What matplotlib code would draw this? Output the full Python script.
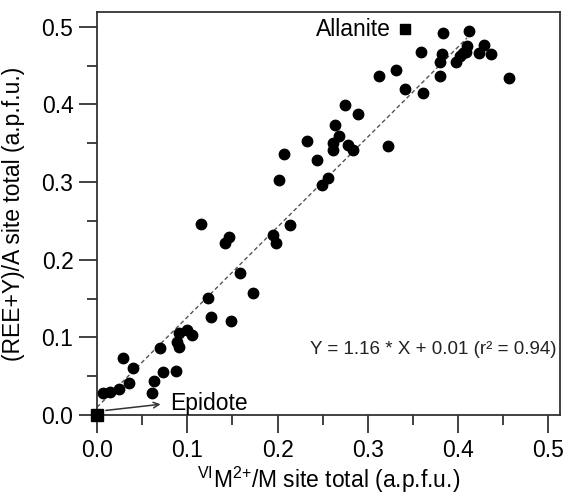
import matplotlib
matplotlib.use("Agg")
import matplotlib.pyplot as plt
from matplotlib.ticker import MultipleLocator

plt.rcParams['font.family'] = ['Liberation Sans', 'DejaVu Sans']
plt.rcParams['mathtext.fontset'] = 'custom'
plt.rcParams['mathtext.rm'] = 'Liberation Sans'
plt.rcParams['mathtext.it'] = 'Liberation Sans'
plt.rcParams['mathtext.default'] = 'regular'

# VI M2+ / M site total
m_site = [0.007, 0.014, 0.024, 0.029, 0.036, 0.040, 0.061, 0.063, 0.073, 0.070,
          0.088, 0.091, 0.089, 0.091, 0.100, 0.105, 0.126, 0.149, 0.123, 0.158,
          0.173, 0.115, 0.142, 0.146, 0.195, 0.198, 0.214, 0.202, 0.207, 0.249,
          0.256, 0.244, 0.233, 0.261, 0.262, 0.268, 0.264, 0.278, 0.284, 0.275,
          0.289, 0.322, 0.313, 0.331, 0.341, 0.361, 0.380, 0.359, 0.383, 0.412,
          0.382, 0.380, 0.410, 0.409, 0.398, 0.402, 0.406, 0.423, 0.429, 0.436,
          0.457]
# (REE+Y) / A site total
a_site = [0.028, 0.030, 0.033, 0.073, 0.041, 0.061, 0.028, 0.044, 0.055, 0.086,
          0.057, 0.088, 0.094, 0.105, 0.110, 0.103, 0.126, 0.121, 0.151, 0.183,
          0.157, 0.246, 0.221, 0.229, 0.232, 0.221, 0.245, 0.302, 0.336, 0.296,
          0.305, 0.328, 0.353, 0.341, 0.350, 0.359, 0.373, 0.348, 0.341, 0.399,
          0.388, 0.347, 0.437, 0.444, 0.420, 0.415, 0.436, 0.468, 0.492, 0.495,
          0.465, 0.455, 0.475, 0.468, 0.454, 0.462, 0.466, 0.466, 0.477, 0.465,
          0.434]

slope = 1.16
intercept = 0.01
fit_x = [0.0, 0.41]
fit_y = [slope * x + intercept for x in fit_x]

epidote = (0.0, 0.0)
allanite = (0.341, 0.497)

fig = plt.figure(figsize=(5.65, 4.99), dpi=100)
ax = fig.add_axes([97/565, 1-415/499, (560-97)/565, (415-12)/499])

ax.plot(fit_x, fit_y, color='#555555', lw=1.0, ls=(0, (3, 2)), zorder=2)
ax.plot(m_site, a_site, 'o', color='black', ms=7.5, mec='black', zorder=3)

ax.plot(*epidote, 's', color='black', ms=8.5, clip_on=False, zorder=4)
ax.plot(*allanite, 's', color='black', ms=6.5, clip_on=False, zorder=4)
ax.text(0.326, 0.497, 'Allanite', ha='right', va='center', fontsize=16.5)
ax.annotate('', xy=(0.0735, 0.0142), xytext=(0.0067, 0.0055),
            arrowprops=dict(arrowstyle='->', color='#333333', lw=1.1))
ax.text(0.081, 0.006, 'Epidote', ha='left', va='baseline', fontsize=16.5)
ax.text(0.236, 0.0786, 'Y = 1.16 * X + 0.01 (r\u00b2 = 0.94)', ha='left',
        va='baseline', fontsize=13.5, color='#222222')

ax.set_xlim(0, 0.513)
ax.set_ylim(0, 0.519)
ax.xaxis.set_major_locator(MultipleLocator(0.1))
ax.xaxis.set_minor_locator(MultipleLocator(0.05))
ax.yaxis.set_major_locator(MultipleLocator(0.1))
ax.yaxis.set_minor_locator(MultipleLocator(0.05))
ax.xaxis.set_major_formatter(plt.FormatStrFormatter('%.1f'))
ax.yaxis.set_major_formatter(plt.FormatStrFormatter('%.1f'))
ax.tick_params(which='major', direction='out', length=13, width=1.3,
               labelsize=16.5, pad=4, color='#333333')
ax.tick_params(which='minor', direction='out', length=7, width=1.3, color='#333333')
for s in ax.spines.values():
    s.set_color('#333333')
    s.set_linewidth(1.3)

ax.set_xlabel('$^{VI}$M$^{2{+}}$/M site total (a.p.f.u.)', fontsize=16.5, labelpad=2)
ax.set_ylabel('(REE+Y)/A site total (a.p.f.u.)', fontsize=16.5, labelpad=12)

fig.savefig('out.png', dpi=100)
